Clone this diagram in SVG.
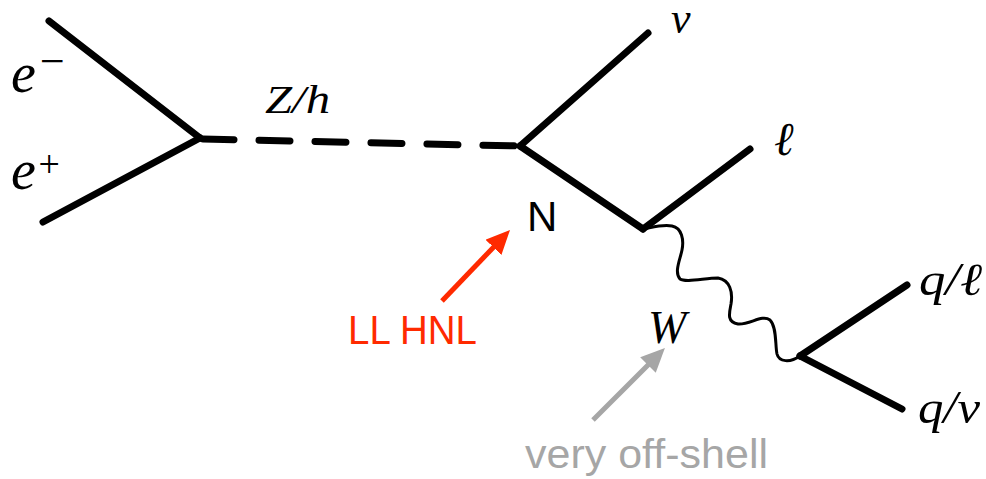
<svg xmlns="http://www.w3.org/2000/svg" width="986" height="479" viewBox="0 0 986 479">
<style>
.fer{stroke:#000;stroke-width:7;stroke-linecap:round;fill:none}
.bos{stroke:#000;stroke-width:7;stroke-linecap:round;stroke-dasharray:31 25;fill:none}
.wav{stroke:#000;stroke-width:3;fill:none;stroke-linecap:round;stroke-linejoin:round}
.math{font-family:"Liberation Serif","DejaVu Serif",serif;font-style:italic;fill:#000}
.sans{font-family:"Liberation Sans","DejaVu Sans",sans-serif}
</style>
<defs>
<marker id="hr" markerUnits="userSpaceOnUse" markerWidth="24" markerHeight="22" viewBox="0 0 24 22" refX="4" refY="11" orient="auto"><path d="M0,0 L24,11 L0,22 z" fill="#ff2a00"/></marker>
<marker id="hg" markerUnits="userSpaceOnUse" markerWidth="24" markerHeight="22" viewBox="0 0 24 22" refX="4" refY="11" orient="auto"><path d="M0,0 L24,11 L0,22 z" fill="#a6a6a6"/></marker>
</defs>
<rect width="986" height="479" fill="#fff"/>
<g id="connectors">
<line class="fer" x1="49" y1="21" x2="200" y2="138"/>
<line class="fer" x1="43" y1="222" x2="200" y2="138"/>
<line class="bos" x1="203" y1="139" x2="520" y2="146"/>
<line class="fer" x1="520" y1="146" x2="648" y2="33"/>
<line class="fer" x1="520" y1="146" x2="643" y2="229"/>
<line class="fer" x1="643" y1="229" x2="750" y2="149"/>
<path class="wav" d="M643,229 C650,228 662,224 672,226 C682,228 684,240 682,250 C680,260 674,272 680,279 C686,283 705,278 718,278 C730,280 733,292 731,304 C729,314 727,322 738,324 C750,325 762,314 770,320 C777,327 775,345 777,354 C779,362 790,363 800,356"/>
<line class="fer" x1="800" y1="356" x2="907" y2="285"/>
<line class="fer" x1="800" y1="356" x2="902" y2="409"/>
<line x1="442" y1="301" x2="496.2" y2="244.4" stroke="#ff2a00" stroke-width="5" marker-end="url(#hr)"/>
<line x1="593" y1="420" x2="650.8" y2="362.2" stroke="#a6a6a6" stroke-width="5" marker-end="url(#hg)"/>
</g>
<g id="label-eminus"><text class="math" x="11" y="92" font-size="56">e</text><text class="math" x="37" y="76" font-size="44" font-style="normal">−</text></g>
<g id="label-eplus"><text class="math" x="11" y="189" font-size="56">e</text><text class="math" x="36" y="177" font-size="38" font-style="normal">+</text></g>
<g id="label-Zh"><text class="math" x="265" y="113" font-size="40" textLength="65" lengthAdjust="spacingAndGlyphs">Z/h</text></g>
<g id="label-nu"><text class="math" x="671" y="33" font-size="44">ν</text></g>
<g id="label-ell"><text class="math" x="774" y="155" font-size="47">ℓ</text></g>
<g id="label-N"><text class="sans" x="527" y="231" font-size="42" fill="#000">N</text></g>
<g id="label-W"><text class="math" x="648" y="343" font-size="46">W</text></g>
<g id="label-ql"><text class="math" x="919" y="295" font-size="46" textLength="63" lengthAdjust="spacingAndGlyphs">q/ℓ</text></g>
<g id="label-qnu"><text class="math" x="918" y="423" font-size="46" textLength="62" lengthAdjust="spacingAndGlyphs">q/ν</text></g>
<g id="label-LLHNL"><text class="sans" x="348" y="344" font-size="41" fill="#ff2a00" textLength="129" lengthAdjust="spacingAndGlyphs">LL HNL</text></g>
<g id="label-offshell"><text class="sans" x="525" y="468" font-size="41" fill="#a6a6a6" textLength="243" lengthAdjust="spacingAndGlyphs">very off-shell</text></g>
</svg>
